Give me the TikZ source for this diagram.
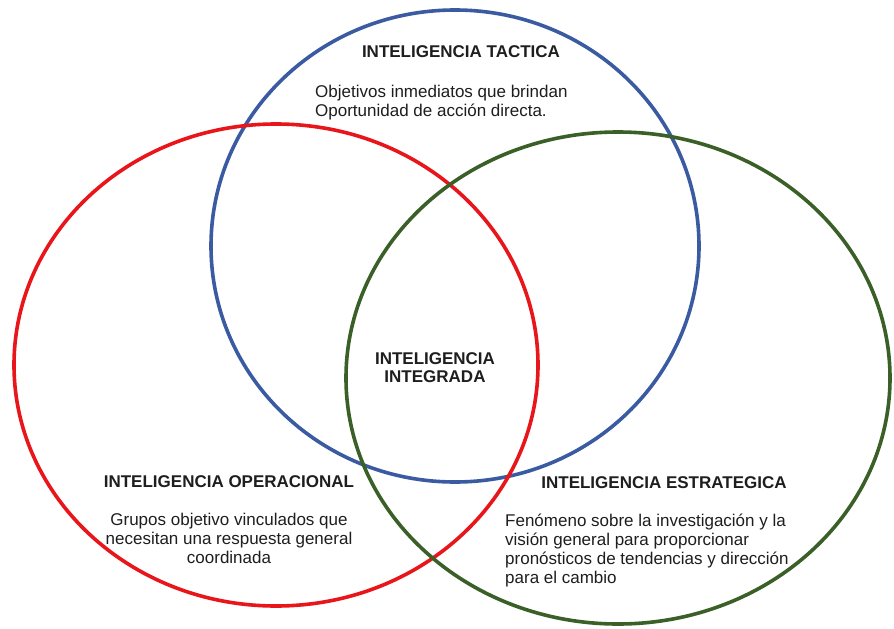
\documentclass[tikz,border=0pt]{standalone}
\usepackage{fontspec}
\setmainfont{Liberation Sans}
\definecolor{cblue}{RGB}{58,90,162}
\definecolor{cred}{RGB}{232,22,26}
\definecolor{cgreen}{RGB}{58,96,40}
\definecolor{ctext}{RGB}{30,30,30}
\begin{document}
\begin{tikzpicture}[x=1pt,y=-1pt,
  ring/.style={line width=3.6pt},
  title/.style={font=\fontsize{17}{18.8}\selectfont\bfseries, text=ctext, inner sep=0pt, anchor=base},
  body/.style={font=\fontsize{17}{18.8}\selectfont, text=ctext, inner sep=0pt}]
\useasboundingbox (0,0) rectangle (894,629);
\fill[white] (0,0) rectangle (894,629);
\draw[ring, cblue] (455,246) ellipse [x radius=244, y radius=236];
\draw[ring, cred] (276,365) ellipse [x radius=262, y radius=241];
\draw[ring, cgreen] (618,378) ellipse [x radius=272, y radius=246];
\node[title] (tt) at (461,57) {INTELIGENCIA TACTICA};
\node[body, anchor=north west, align=left] (tb) at (315,85) {Objetivos inmediatos que brindan\\Oportunidad de acción directa.};
\node[title, anchor=north, align=center] (it) at (435,352) {INTELIGENCIA\\INTEGRADA};
\node[title] (ot) at (229,487) {INTELIGENCIA OPERACIONAL};
\node[body, anchor=north, align=center] (ob) at (229,513) {Grupos objetivo vinculados que\\necesitan una respuesta general\\coordinada};
\node[title] (et) at (664,488) {INTELIGENCIA ESTRATEGICA};
\node[body, anchor=north west, align=left] (eb) at (505,514) {Fenómeno sobre la investigación y la\\visión general para proporcionar\\pronósticos de tendencias y dirección\\para el cambio};
\end{tikzpicture}
\end{document}
